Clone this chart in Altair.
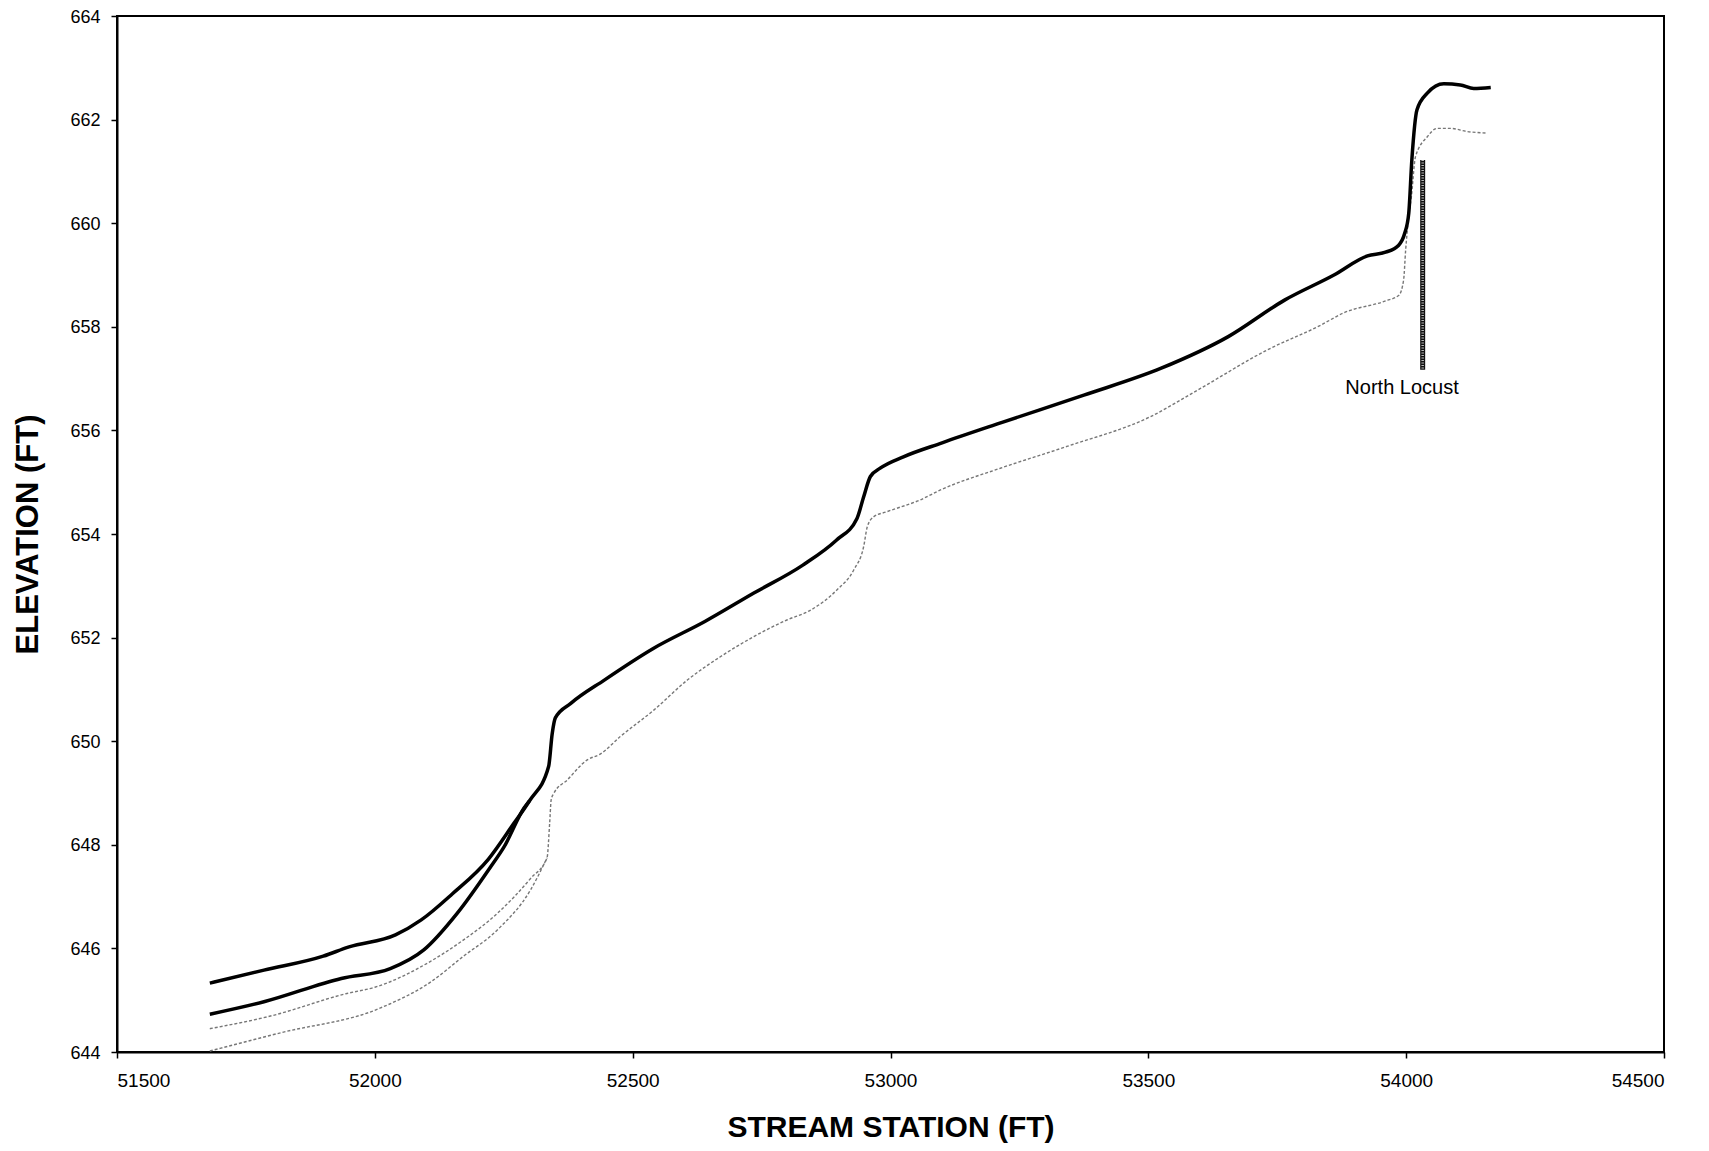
import altair as alt
import pandas as pd

# ---- data ----
# Thick profile 1 (full length)
thick1_station = [51680, 51785, 51900, 51950, 52040, 52090, 52150, 52220, 52270, 52300,
                  52337, 52344, 52350, 52380, 52445, 52540, 52640, 52735, 52830, 52895,
                  52935, 52948, 52961, 52980, 53025, 53100, 53215, 53375, 53525, 53655,
                  53765, 53860, 53925, 53960, 53985, 53997, 54005, 54011, 54021, 54041,
                  54073, 54105, 54131, 54164]
thick1_elev = [645.33, 645.58, 645.85, 646.03, 646.26, 646.55, 647.05, 647.72, 648.42, 648.85,
               649.51, 650.15, 650.45, 650.73, 651.18, 651.79, 652.31, 652.86, 653.40, 653.88,
               654.30, 654.72, 655.11, 655.27, 655.49, 655.76, 656.15, 656.68, 657.20, 657.81,
               658.52, 659.00, 659.37, 659.44, 659.57, 659.80, 660.19, 661.22, 662.19, 662.51,
               662.69, 662.67, 662.60, 662.62]

# Thick profile 2 (joins profile 1 near 52300)
thick2_station = [51680, 51785, 51935, 52030, 52095, 52160, 52225, 52250, 52290, 52300]
thick2_elev = [644.73, 644.97, 645.42, 645.61, 645.97, 646.68, 647.58, 647.95, 648.72, 648.85]

# Dotted profile 1 (full length)
dot1_station = [51680, 51800, 51946, 52000, 52108, 52170, 52238, 52302, 52334, 52339,
                52342, 52347, 52373, 52412, 52437, 52476, 52541, 52606, 52670, 52735,
                52799, 52845, 52896, 52929, 52948, 52955, 52967, 52993, 53058, 53097,
                53213, 53342, 53503, 53601, 53730, 53834, 53879, 53960, 53986, 53995,
                53999, 54005, 54010, 54018, 54041, 54060, 54086, 54118, 54157]
dot1_elev = [644.45, 644.70, 645.13, 645.25, 645.75, 646.15, 646.68, 647.35, 647.75, 648.41,
             648.87, 648.99, 649.25, 649.64, 649.75, 650.09, 650.60, 651.18, 651.63, 652.02,
             652.34, 652.53, 652.92, 653.31, 653.76, 654.14, 654.33, 654.43, 654.66, 654.85,
             655.27, 655.69, 656.26, 656.81, 657.55, 658.03, 658.27, 658.50, 658.61, 658.90,
             659.48, 660.13, 660.50, 661.28, 661.67, 661.83, 661.83, 661.77, 661.74]

# Dotted profile 2 (joins dotted profile 1 near 52334)
dot2_station = [51680, 51817, 52011, 52108, 52172, 52238, 52302, 52334]
dot2_elev = [644.02, 644.37, 644.85, 645.35, 645.85, 646.36, 647.13, 647.75]

# Bridge marker
bridge_name = ["North Locust"]
bridge_station = [54032]
bridge_top = [661.22]
bridge_bottom = [657.17]
label_station = [53992]
label_elev = [656.82]

x_ticks = [51500, 52000, 52500, 53000, 53500, 54000, 54500]
y_ticks = [644, 646, 648, 650, 652, 654, 656, 658, 660, 662, 664]

FONT = "Liberation Sans"


def frame(st, el):
    return pd.DataFrame({"station": st, "elev": el, "idx": list(range(len(st)))})


xscale = alt.Scale(domain=[51500, 54500], nice=False, zero=False)
yscale = alt.Scale(domain=[644, 664], nice=False, zero=False)

x_enc = alt.X(
    "station:Q", scale=xscale,
    axis=alt.Axis(values=x_ticks, format="d", grid=False, tickSize=6, labelPadding=13,
                  labelFontSize=19, labelFont=FONT, labelColor="black",
                  title="STREAM STATION (FT)", titleFont=FONT, titleFontSize=30,
                  titleFontWeight="bold", titleColor="black", titleY=84,
                  titleBaseline="alphabetic"),
)
y_enc = alt.Y(
    "elev:Q", scale=yscale,
    axis=alt.Axis(values=y_ticks, grid=False, tickSize=6, labelPadding=11,
                  labelFontSize=18, labelFont=FONT, labelColor="black", labelOffset=1,
                  title="ELEVATION (FT)", titleFont=FONT, titleFontSize=31,
                  titleFontWeight="bold", titleColor="black", titleX=-89, titleY=518,
                  titleAngle=270, titleAlign="center", titleBaseline="middle"),
)


def line(st, el, **kw):
    return alt.Chart(frame(st, el)).mark_line(interpolate="monotone", **kw).encode(
        x=x_enc, y=y_enc, order="idx:Q")


dot2 = line(dot2_station, dot2_elev, color="#777777", strokeWidth=1.4, strokeDash=[3, 2])
dot1 = line(dot1_station, dot1_elev, color="#777777", strokeWidth=1.4, strokeDash=[3, 2])
thick2 = line(thick2_station, thick2_elev, color="black", strokeWidth=3.5)
thick1 = line(thick1_station, thick1_elev, color="black", strokeWidth=3.5)

bridge_df = pd.DataFrame({"name": bridge_name, "station": bridge_station,
                          "top": bridge_top, "bottom": bridge_bottom,
                          "lx": label_station, "ly": label_elev})

bar_dark = alt.Chart(bridge_df).mark_rule(color="#111111", strokeWidth=5).encode(
    x=alt.X("station:Q", scale=xscale), y=alt.Y("top:Q", scale=yscale), y2="bottom:Q")
bar_light = alt.Chart(bridge_df).mark_rule(color="#bbbbbb", strokeWidth=2.5,
                                           strokeDash=[1, 1.5]).encode(
    x=alt.X("station:Q", scale=xscale), y=alt.Y("top:Q", scale=yscale), y2="bottom:Q")
bar_label = alt.Chart(bridge_df).mark_text(font=FONT, fontSize=20, color="black",
                                           align="center", baseline="middle").encode(
    x=alt.X("lx:Q", scale=xscale), y=alt.Y("ly:Q", scale=yscale), text="name:N")

chart = alt.layer(dot2, dot1, thick2, thick1, bar_dark, bar_light, bar_label).properties(
    width=1547, height=1036,
    autosize=alt.AutoSizeParams(type="none"),
    padding={"left": 109, "top": 8, "right": 30, "bottom": 91},
    title=alt.TitleParams(text="(NORTH LOCUST)", font=FONT, fontSize=33,
                          fontWeight="bold", color="black", anchor="middle",
                          offset=5, baseline="alphabetic", dx=-54),
).configure_view(stroke="black", strokeWidth=2).configure_axis(
    domainColor="black", domainWidth=2, tickColor="black", tickWidth=1.5
)

chart.save("out.html", embed_options={"renderer": "svg", "actions": False})
